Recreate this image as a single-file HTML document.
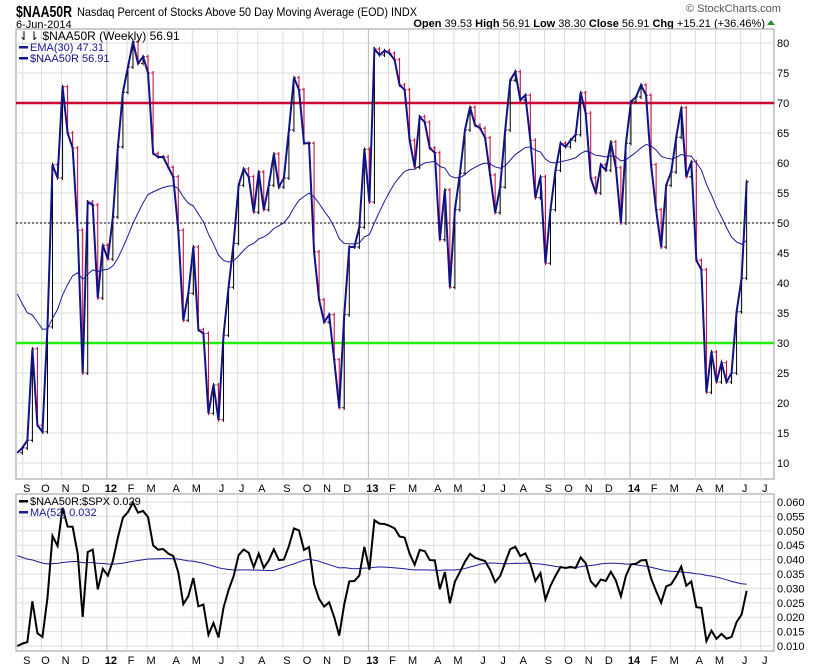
<!DOCTYPE html>
<html><head><meta charset="utf-8">
<style>
body{margin:0;background:#fff;font-family:"Liberation Sans",sans-serif;}
svg{display:block}
</style></head>
<body>
<svg id="chart" width="820" height="668" xmlns="http://www.w3.org/2000/svg" font-family="Liberation Sans, sans-serif">
<text x="16" y="17" font-size="16" font-weight="bold" textLength="56" lengthAdjust="spacingAndGlyphs">$NAA50R</text>
<text x="77" y="16" font-size="12" textLength="340" lengthAdjust="spacingAndGlyphs">Nasdaq Percent of Stocks Above 50 Day Moving Average (EOD) INDX</text>
<text x="686" y="12" font-size="11" fill="#555">© StockCharts.com</text>
<text x="16" y="28" font-size="11">6-Jun-2014</text>
<text x="765" y="27" font-size="11" text-anchor="end"><tspan font-weight="bold">Open</tspan> 39.53 <tspan font-weight="bold">High</tspan> 56.91 <tspan font-weight="bold">Low</tspan> 38.30 <tspan font-weight="bold">Close</tspan> 56.91 <tspan font-weight="bold">Chg</tspan> +15.21 (+36.46%)</text>
<polygon points="767,25 771,20 775,25" fill="#2a8a2a"/>
<g id="main"></g>
<g id="lower"></g>
</svg>
<script>
const closes=[11.7,12.5,13.8,29,16.3,15.2,32.7,59.7,57.5,72.7,65,62.5,48.8,25,53.5,53,37.5,46.3,44,51,62.7,71.8,76,80.2,76.6,77.7,75,61.6,61,61,59.3,57.7,48.8,33.8,38.3,46,32.2,31.6,18.3,23,17.2,31.3,39.3,46.6,56.3,59,57.7,51.8,58.5,52.2,56.3,
61.5,56,57.5,65.5,74.2,72.2,63.3,63.3,45.2,37.2,33.5,34.7,27.2,19.2,34.7,46,46,49.3,62.3,53.5,79,78,78.7,78.3,77.2,73,72.2,63.8,59.3,67.7,66.8,62.5,61.7,47.2,55.5,39.3,52.2,58.3,65.5,69.3,66.3,65.8,64.2,58,51.7,56,65.5,73.8,75.2,70.5,
71.3,63.8,54.2,57.7,43.3,52.2,58.8,63.3,62.7,63.8,64.7,71.7,68.3,57.5,55,59.7,58.8,63.5,59.2,50,63.3,70.2,71,73,71.3,59.7,52.2,46,56.3,58.5,64.3,69.2,57.7,60.2,43.8,42.2,21.8,28.5,23.5,26.7,23.5,25,35.2,40.8,56.9];
const spx=[1174,1154,1216,1136,1131,1155,1224,1238,1285,1253,1263,1216,1159,1244,1255,1219,1265,1258,1278,1289,1315,1316,1345,1342,1361,1366,1370,1371,1404,1397,1408,1398,1370,1379,1403,1369,1353,1295,1317,1278,1325,1342,1335,1362,1354,1357,1362,1386,1391,1405,1418,1411,1406,1437,1466,1460,1440,1460,1428,1433,1412,1414,1380,1359,1409,1416,1418,1413,1430,1402,1466,1472,1486,1503,1513,1518,1520,1515,1518,1552,1561,1556,1569,1553,1588,1555,1582,1614,1633,1667,1650,1631,1643,1626,1592,1606,1632,1680,1692,1691,1710,1691,1656,1664,1633,1655,1688,1710,1692,1691,1703,1744,1759,1762,1771,1798,1805,1805,1775,1809,1834,1841,1831,1842,1838,1790,1782,1797,1838,1836,1859,1878,1841,1866,1857,1865,1815,1864,1863,1881,1878,1877,1900,1924,1949,1951];
const monthStarts=[1.3,5,9,13,18,22,26,31,35,40,44,48,53,57,61,65,70,74,78,83,87,92,96,100,105,109,113,117,122,126,130,135,139,144,148];
const monthLabels=["S","O","N","D","12","F","M","A","M","J","J","A","S","O","N","D","13","F","M","A","M","J","J","A","S","O","N","D","14","F","M","A","M","J","J"];
const mainTicks=[10,15,20,25,30,35,40,45,50,55,60,65,70,75,80];
const lowerTicks=[0.010,0.015,0.020,0.025,0.030,0.035,0.040,0.045,0.050,0.055,0.060];

const NS="http://www.w3.org/2000/svg";
const L=16,R=774,MT=29,MB=479,LT=494,LB=651;
const xOf=i=>17.3+i*5.03;
const yMain=v=>43+(80-v)*6.0;
const yLow=v=>502+(0.060-v)/0.005*14.4;
function mk(parent,tag,attrs){const e=document.createElementNS(NS,tag);for(const k in attrs)e.setAttribute(k,attrs[k]);parent.appendChild(e);return e;}
const main=document.getElementById('main'),lower=document.getElementById('lower');

function panel(g,top,bot,ticks,yf,fmt,name){
  mk(g,'rect',{x:L,y:top,width:R-L,height:bot-top,fill:'#fff',stroke:'#999'});
  ticks.forEach(t=>{const y=yf(t);
    mk(g,'line',{x1:L,x2:R,y1:y,y2:y,stroke:'#ddd'});
    const tx=mk(g,'text',{x:R+3,y:y+4,'font-size':11});tx.textContent=fmt(t);
    
    
  });
  monthStarts.forEach((m,k)=>{const x=xOf(m)-1;
    if(x>L&&x<R){const yr=/\d/.test(monthLabels[k]);mk(g,'line',{x1:x,x2:x,y1:top,y2:bot,stroke:yr?'#bbb':'#ddd'});}
    const lx=xOf(m)+3;if(lx<R+4){const t=mk(g,'text',{x:lx,y:bot+13,'font-size':11,'text-anchor':'middle','font-weight':/\d/.test(monthLabels[k])?'bold':'normal'});t.textContent=monthLabels[k];
    
    }
  });
}
panel(main,MT,MB,mainTicks,yMain,v=>v,'main-y');
panel(lower,LT,LB,lowerTicks,yLow,v=>v.toFixed(3),'lower-y');

let l=mk(main,'line',{x1:L,x2:R,y1:yMain(50),y2:yMain(50),stroke:'#000','stroke-dasharray':'2,2'});


l=mk(main,'line',{x1:L,x2:R,y1:yMain(70),y2:yMain(70),stroke:'#cc0033','stroke-width':2.5});


l=mk(main,'line',{x1:L,x2:R,y1:yMain(30),y2:yMain(30),stroke:'#22ee00','stroke-width':2.5});



closes.forEach((c,i)=>{if(i===0)return;const p=closes[i-1];const x=xOf(i);const col=c<p?'#cc0033':'#000';
  const b=mk(main,'path',{d:`M${x},${yMain(Math.max(c,p))-2}V${yMain(Math.min(c,p))+2}M${x-2},${yMain(p)}H${x}M${x},${yMain(c)}H${x+2}`,stroke:col,fill:'none','stroke-width':1});
  
  
});
const a=2/31;let e=40;const ema=closes.map(c=>(e=e+a*(c-e)));
let p=mk(main,'polyline',{points:ema.map((v,i)=>xOf(i)+','+yMain(v)).join(' '),fill:'none',stroke:'#1a1a99','stroke-width':1});


p=mk(main,'polyline',{points:closes.map((v,i)=>xOf(i)+','+yMain(v)).join(' '),fill:'none',stroke:'#111188','stroke-width':2});



const clip=mk(lower,'clipPath',{id:'lc'});mk(clip,'rect',{x:L,y:LT,width:R-L,height:LB-LT});
const ratio=closes.map((c,i)=>c/spx[i]);
const ma=ratio.map((v,i)=>{let s=0;for(let k=i-51;k<=i;k++)s+=k>=0?ratio[k]:0.042;return s/52;});
p=mk(lower,'polyline',{points:ma.map((v,i)=>xOf(i)+','+yLow(v)).join(' '),fill:'none',stroke:'#1a1a99','stroke-width':1,'clip-path':'url(#lc)'});


p=mk(lower,'polyline',{points:ratio.map((v,i)=>xOf(i)+','+yLow(v)).join(' '),fill:'none',stroke:'#000','stroke-width':2,'clip-path':'url(#lc)'});



function leg(g,x,y,col,txt,name){mk(g,'rect',{x:x,y:y-5,width:9,height:2.5,fill:col});const t=mk(g,'text',{x:x+11,y:y,'font-size':11,fill:col});t.textContent=txt;

}
let t=mk(main,'text',{x:19,y:40,'font-size':12});t.textContent='⇃⇂ $NAA50R (Weekly) 56.91';


leg(main,19,51,'#1a1a99','EMA(30) 47.31','legend-ema30');
leg(main,19,62,'#111188','$NAA50R 56.91','legend-close');
leg(lower,19,505,'#000','$NAA50R:$SPX 0.029','legend-ratio');
leg(lower,19,516,'#1a1a99','MA(52) 0.032','legend-ma52');
</script>
</body></html>
